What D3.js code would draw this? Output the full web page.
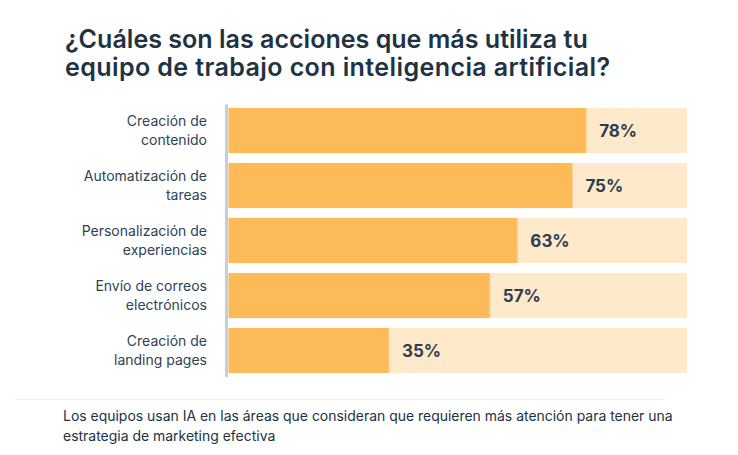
<!DOCTYPE html>
<html>
<head>
<meta charset="utf-8">
<script src="https://cdn.jsdelivr.net/npm/d3@7"></script>
<style>
  html, body { margin: 0; padding: 0; background: #ffffff; }
  svg { display: block; }
</style>
</head>
<body>
<script>
const categories = [
  ["Creación de", "contenido"],
  ["Automatización de", "tareas"],
  ["Personalización de", "experiencias"],
  ["Envío de correos", "electrónicos"],
  ["Creación de", "landing pages"]
];
const values = [78, 75, 63, 57, 35];
const titleLines = ["¿Cuáles son las acciones que más utiliza tu", "equipo de trabajo con inteligencia artificial?"];
const noteLines = ["Los equipos usan IA en las áreas que consideran que requieren más atención para tener una", "estrategia de marketing efectiva"];

const W = 738, H = 455;
const FONT = "Inter, 'Noto Sans', sans-serif";
const svg = d3.select("body").append("svg").attr("width", W).attr("height", H);

function fit(sel, target) {
  const len = sel.node().getComputedTextLength();
  const fs = parseFloat(sel.attr("font-size"));
  sel.attr("font-size", (fs * target / len).toFixed(2));
}
function spread(sel, target) {
  const len = sel.node().getComputedTextLength();
  const n = sel.text().length - 1;
  sel.attr("letter-spacing", ((target - len) / n).toFixed(3));
}

// Title
const t1 = svg.append("text").attr("x", 65).attr("y", 48).attr("font-family", FONT)
  .attr("font-weight", 600).attr("font-size", 22).attr("fill", "#213343").text(titleLines[0]);
fit(t1, 523);
const t2 = svg.append("text").attr("x", 65).attr("y", 76).attr("font-family", FONT)
  .attr("font-weight", 600).attr("font-size", t1.attr("font-size")).attr("fill", "#213343").text(titleLines[1]);
spread(t2, 545);

const x = d3.scaleLinear().domain([0, 100]).range([228.5, 687]);
const y = d3.scaleBand().domain(d3.range(values.length)).range([103, 378]).paddingInner(0.18).paddingOuter(0.09);

const g = svg.append("g");
g.selectAll("rect.bg").data(values).join("rect").attr("class", "bg")
  .attr("x", x(0)).attr("y", (d, i) => y(i)).attr("width", x(100) - x(0)).attr("height", y.bandwidth())
  .attr("fill", "#fee9cb");
g.selectAll("rect.fg").data(values).join("rect").attr("class", "fg")
  .attr("x", x(0)).attr("y", (d, i) => y(i)).attr("width", d => x(d) - x(0)).attr("height", y.bandwidth())
  .attr("fill", "#fcbb58");
g.selectAll("line.edge").data(values).join("line").attr("class", "edge")
  .attr("x1", d => x(d)).attr("x2", d => x(d)).attr("y1", (d, i) => y(i)).attr("y2", (d, i) => y(i) + y.bandwidth())
  .attr("stroke", "#fcd08c").attr("stroke-width", 1);

g.selectAll("text.val").data(values).join("text").attr("class", "val")
  .attr("x", d => x(d) + 13).attr("y", (d, i) => y(i) + y.bandwidth() / 2)
  .attr("dy", "0.36em").attr("font-family", FONT).attr("font-weight", 700).attr("font-size", 17)
  .attr("fill", "#2d3e50").text(d => d + "%");

svg.append("line").attr("x1", 226.5).attr("x2", 226.5).attr("y1", 104.5).attr("y2", 377)
  .attr("stroke", "#c2d0dd").attr("stroke-width", 3);

const lab = svg.selectAll("text.cat").data(categories).join("text").attr("class", "cat")
  .attr("x", 207).attr("text-anchor", "end").attr("font-family", FONT).attr("font-size", 14)
  .attr("fill", "#2f4256");
lab.each(function(d, i) {
  const c = y(i) + y.bandwidth() / 2;
  d3.select(this).selectAll("tspan").data(d).join("tspan")
    .attr("x", 207).attr("y", (s, j) => c - 9.5 + j * 19).attr("dy", "0.36em").text(s => s);
});

svg.append("line").attr("x1", 15).attr("x2", 665).attr("y1", 399.5).attr("y2", 399.5)
  .attr("stroke", "#eeeeee").attr("stroke-width", 1);

const n1 = svg.append("text").attr("x", 63).attr("y", 421).attr("font-family", FONT)
  .attr("font-size", 13).attr("fill", "#213343").text(noteLines[0]);
fit(n1, 610);
svg.append("text").attr("x", 63).attr("y", 441).attr("font-family", FONT)
  .attr("font-size", n1.attr("font-size")).attr("fill", "#213343").text(noteLines[1]);
</script>
</body>
</html>
